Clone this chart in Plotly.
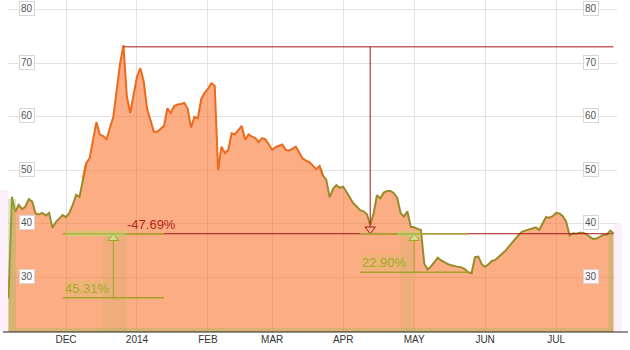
import numpy as np
import pandas as pd
import plotly.graph_objects as go

# ---------------- data ----------------
holidays = ["2013-11-28", "2013-12-25", "2014-01-01", "2014-01-20",
            "2014-02-17", "2014-04-18", "2014-05-26", "2014-07-04"]
dates = pd.bdate_range("2013-11-06", "2014-07-25", freq="C", holidays=holidays)
dates = dates.strftime("%Y-%m-%d").tolist()

price = [
    26.0, 45.0, 42.2, 43.5, 42.7, 43.2, 44.6, 44.1, 41.9, 41.7,
    42.0, 41.5, 42.0, 39.2, 40.3, 40.9, 41.6,
    41.2, 42.0, 43.5, 45.4, 45.0, 48.5, 51.3, 52.3, 55.5, 59.0,
    56.7, 56.4, 55.8, 57.8, 60.0, 65.0, 70.0, 73.4, 63.8, 60.7, 64.5,
    67.5, 69.1, 66.6, 61.5, 59.3, 57.2, 57.2, 57.8, 58.3, 61.6, 60.7,
    62.0, 62.3, 62.4, 62.6, 61.5, 58.0, 60.0, 59.7, 63.3, 64.5,
    65.2, 66.3, 65.8, 50.0, 54.4, 53.2, 53.8, 56.9, 56.7, 57.4, 58.3,
    55.7, 56.7, 56.3, 56.0, 55.3, 56.0, 55.8, 54.8,
    53.8, 54.3, 54.5, 54.8, 53.8, 53.7, 54.0, 54.4, 53.3, 52.2, 51.8,
    51.5, 50.9, 50.2, 50.8, 49.0, 48.2, 44.9, 46.5, 47.2, 46.7,
    46.9, 45.9, 44.8, 43.8, 43.2, 42.5, 42.3, 41.8, 39.8, 41.9, 45.3,
    44.7, 45.8, 46.1, 46.1, 45.7, 44.8, 42.0, 41.3, 42.3, 39.4,
    39.3, 39.0, 38.8, 32.5, 31.4, 32.0, 32.9, 33.6, 33.1, 32.7, 32.4,
    32.2, 32.0, 31.9, 31.8, 31.5, 30.9, 30.7, 33.7, 33.8, 32.4,
    31.9, 32.4, 33.0, 33.2, 33.8, 34.4, 34.9, 35.7, 36.5, 37.3, 37.9,
    38.5, 38.7, 38.9, 39.1, 39.3, 38.8, 40.0, 41.2, 41.1, 41.4,
    42.0, 41.9, 41.4, 40.3, 37.8, 38.2, 38.1, 38.3, 38.3, 38.0, 37.5,
    37.1, 37.2, 37.5, 37.9, 37.9, 38.7, 38.2,
]
assert len(price) == len(dates), (len(price), len(dates))

month_labels = ["DEC", "2014", "FEB", "MAR", "APR", "MAY", "JUN", "JUL"]
y_ticks = [30, 40, 50, 60, 70, 80]

# drawdown measurement
peak_date = "2013-12-26"
peak_level = 73.1
trough_level = 38.1
drop_date = "2014-04-11"
drop_label = "-47.69%"

# gain measurements: (vertical date, line start, line end, low level, label)
gain_vertical = ["2013-12-20", "2014-05-01"]
gain_start = ["2013-11-29", "2014-04-08"]
gain_end = ["2014-01-14", "2014-05-23"]
gain_low = [26.1, 30.9]
gain_label = ["45.31%", "22.90%"]

# ---------------- style ----------------
W, H = 630, 350
ML, MR, MT, MB = 8, 13, 0, 18
Y_MIN, Y_MAX = 19.7, 81.87
X_MIN, X_MAX = -0.16, 180.02
px_per_unit = (H - MT - MB) / (Y_MAX - Y_MIN)

ORANGE = "#ec6a1c"
OLIVE = "#998b2a"
FILL = "rgba(252,118,48,0.6)"
RED = "#a31818"
GREEN = "#a4a12a"
TAN = "rgba(140,190,80,0.32)"
FONT = "Arial, Liberation Sans, sans-serif"

fig = go.Figure()

# area
fig.add_trace(go.Scatter(x=dates, y=price, mode="lines", fill="tozeroy",
                         fillcolor=FILL, line=dict(width=0), hoverinfo="skip"))

vals = np.array(price)
T = 49.5
below = vals < T
above = ~below
low_mask = below | np.r_[below[1:], False] | np.r_[False, below[:-1]]
high_mask = above | np.r_[above[1:], False] | np.r_[False, above[:-1]]
fig.add_trace(go.Scatter(x=dates, y=[v if m else None for v, m in zip(price, low_mask)],
                         mode="lines", line=dict(color=OLIVE, width=2), connectgaps=False))
fig.add_trace(go.Scatter(x=dates, y=[v if m else None for v, m in zip(price, high_mask)],
                         mode="lines", line=dict(color=ORANGE, width=2), connectgaps=False))

# red drawdown lines
end_date = dates[-1]
fig.add_trace(go.Scatter(x=[peak_date, end_date], y=[peak_level, peak_level], mode="lines",
                         line=dict(color=RED, width=1)))
fig.add_trace(go.Scatter(x=[peak_date, end_date], y=[trough_level, trough_level], mode="lines",
                         line=dict(color=RED, width=1)))
fig.add_trace(go.Scatter(x=[drop_date, drop_date], y=[peak_level, trough_level], mode="lines",
                         line=dict(color=RED, width=1)))
tri = 9
fig.add_trace(go.Scatter(x=[drop_date], y=[trough_level + (tri / 2) / px_per_unit],
                         mode="markers",
                         marker=dict(symbol="triangle-down", size=tri, color="#fdb48c",
                                     line=dict(color=RED, width=1))))

# green gain annotations
for xv, xs, xe, lo in zip(gain_vertical, gain_start, gain_end, gain_low):
    fig.add_trace(go.Scatter(x=[xs, xe], y=[trough_level, trough_level], mode="lines",
                             line=dict(color=GREEN, width=1.5)))
    fig.add_trace(go.Scatter(x=[xs, xe], y=[lo, lo], mode="lines",
                             line=dict(color=GREEN, width=1.5)))
    fig.add_trace(go.Scatter(x=[xv, xv], y=[lo, trough_level], mode="lines",
                             line=dict(color=GREEN, width=1)))
    fig.add_trace(go.Scatter(x=[xv], y=[trough_level - (tri / 2) / px_per_unit],
                             mode="markers",
                             marker=dict(symbol="triangle-up", size=tri, color="#d6e49a",
                                         line=dict(color=GREEN, width=1))))

shapes = []
idx = {d: i for i, d in enumerate(dates)}
# tan highlight strips (left, right, bottom)
shapes.append(dict(type="rect", xref="x", yref="y", x0=X_MIN, x1=2.2, y0=Y_MIN, y1=price[1] - 0.4,
                   fillcolor=TAN, line=dict(width=0), layer="above"))
shapes.append(dict(type="rect", xref="x", yref="y", x0=len(dates) - 2.5, x1=len(dates) - 1,
                   y0=Y_MIN, y1=price[-1], fillcolor=TAN, line=dict(width=0), layer="above"))
shapes.append(dict(type="rect", xref="x", yref="y", x0=2.2, x1=len(dates) - 2.5,
                   y0=Y_MIN, y1=Y_MIN + 0.75, fillcolor=TAN, line=dict(width=0), layer="above"))
# soft highlight bands at the gain verticals
band_left = [3, 4]
band_right = [4, 0]
glow_left = [14, 5]
glow_right = [4, 2]
for xv, bl, br, gl, gr in zip(gain_vertical, band_left, band_right, glow_left, glow_right):
    k = idx[xv]
    shapes.append(dict(type="rect", xref="x", yref="y", x0=k - bl, x1=k + br, y0=Y_MIN, y1=trough_level,
                       fillcolor="rgba(150,180,70,0.13)", line=dict(width=0), layer="above"))
    shapes.append(dict(type="rect", xref="x", yref="y", x0=k - gl, x1=k + gr,
                       y0=trough_level - 3 / px_per_unit, y1=trough_level + 3 / px_per_unit,
                       fillcolor="rgba(175,225,110,0.4)", line=dict(width=0), layer="above"))
# faint pink edges outside the series
plot_w = W - ML - MR
shapes.append(dict(type="rect", xref="paper", yref="y", x0=-ML / plot_w, x1=0, y0=Y_MIN, y1=46.3,
                   fillcolor="#fdf0fb", line=dict(width=0), layer="below"))
shapes.append(dict(type="rect", xref="paper", yref="y", x0=(614 - ML) / plot_w, x1=(622 - ML) / plot_w,
                   y0=Y_MIN, y1=40.1, fillcolor="#fdf0fb", line=dict(width=0), layer="below"))
# x axis line
shapes.append(dict(type="line", xref="paper", yref="paper", x0=(3 - ML) / plot_w, x1=(628 - ML) / plot_w,
                   y0=0, y1=0, line=dict(color="#222222", width=1)))

annotations = []
for v in y_ticks:
    for xp, bg in (((27 - ML) / plot_w, "white"), ((591 - ML) / plot_w, "#fff4fb" if v == 30 else "white")):
        annotations.append(dict(x=xp, xref="paper", y=v, yref="y", text=str(v), showarrow=False,
                                font=dict(family=FONT, size=10, color="#555555"),
                                bgcolor=bg, bordercolor="#d6d6d6", borderwidth=1, borderpad=1,
                                xanchor="center", yanchor="middle", yshift=1))
annotations.append(dict(x=peak_date, y=trough_level, text=drop_label, showarrow=False,
                        xanchor="left", yanchor="bottom", xshift=2, yshift=0,
                        font=dict(family=FONT, size=13, color="#b0251b")))
for xs, lo, lab in zip(gain_start, gain_low, gain_label):
    annotations.append(dict(x=xs, y=lo, text=lab, showarrow=False,
                            xanchor="left", yanchor="bottom", xshift=1, yshift=1,
                            bgcolor="rgba(185,200,80,0.22)", borderpad=0,
                            font=dict(family=FONT, size=13, color="#a9a82a")))

month_first = []
seen = set()
for d in dates:
    m = d[:7]
    if m not in seen:
        seen.add(m)
        month_first.append(d)
tick_dates = month_first[1:1 + len(month_labels)]

fig.update_layout(
    width=W, height=H,
    margin=dict(l=ML, r=MR, t=MT, b=MB),
    paper_bgcolor="white", plot_bgcolor="white",
    showlegend=False,
    shapes=shapes, annotations=annotations,
    xaxis=dict(type="category", range=[X_MIN, X_MAX], tickvals=tick_dates, ticktext=month_labels,
               showgrid=True, gridcolor="#e2e2e2", gridwidth=1, ticks="", showline=False,
               zeroline=False, tickfont=dict(family=FONT, size=10, color="#333333")),
    yaxis=dict(range=[Y_MIN, Y_MAX], tickvals=y_ticks, showticklabels=False, showgrid=True,
               gridcolor="#e2e2e2", gridwidth=1, zeroline=False, showline=False),
)

fig.write_html("out.html")
